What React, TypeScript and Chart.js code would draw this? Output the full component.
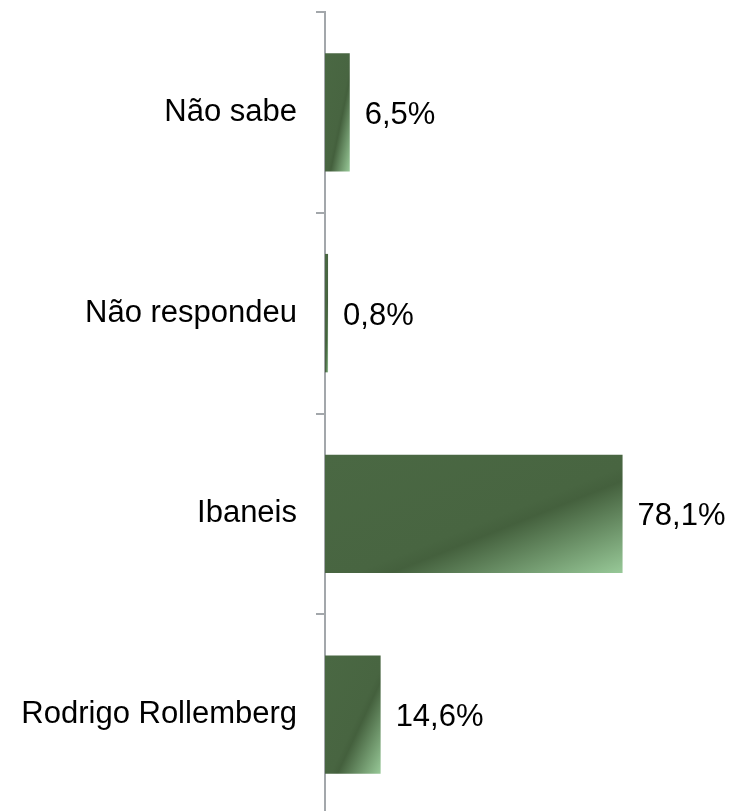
import React, { useEffect, useRef } from "react";
import { Chart, registerables } from "chart.js";

Chart.register(...registerables);

const categories = ["Não sabe", "Não respondeu", "Ibaneis", "Rodrigo Rollemberg"];
const values = [6.5, 0.8, 78.1, 14.6];
const valueLabels = ["6,5%", "0,8%", "78,1%", "14,6%"];

const FONT = "'Liberation Sans', Arial, sans-serif";
const DARK = "#4b6944";
const BAR_PCT = 0.59;
const AXIS = "#a3a7ab";

const gradientBg = (ctx: any) => {
  const chart = ctx.chart;
  const xs = chart.scales?.x;
  const ys = chart.scales?.y;
  if (!xs || !ys || !chart.chartArea || typeof ctx.raw !== "number") return DARK;
  const i = ctx.dataIndex;
  const x0 = xs.getPixelForValue(0);
  const x1 = xs.getPixelForValue(ctx.raw);
  const yc = ys.getPixelForValue(i);
  const step = Math.abs(ys.getPixelForValue(1) - ys.getPixelForValue(0));
  const h = step * BAR_PCT;
  const top = yc - h / 2;
  const w = Math.max(1, x1 - x0);
  const k = (2 * w * h) / (h * h + w * w);
  const g = chart.ctx.createLinearGradient(x0, top, x0 + k * h, top + k * w);
  g.addColorStop(0, "#4a6843");
  g.addColorStop(0.55, "#486541");
  g.addColorStop(0.61, "#44603d");
  g.addColorStop(1, "#98c998");
  return g;
};

const valueLabelPlugin = {
  id: "valueLabels",
  afterDatasetsDraw(chart: any) {
    const meta = chart.getDatasetMeta(0);
    const c = chart.ctx;
    c.save();
    c.font = `31px ${FONT}`;
    c.fillStyle = "#000";
    c.textAlign = "left";
    c.textBaseline = "middle";
    meta.data.forEach((bar: any, i: number) => {
      c.fillText(valueLabels[i], bar.x + 15, bar.y + 3);
    });
    c.restore();
  },
};

export default function App() {
  const ref = useRef<HTMLCanvasElement | null>(null);
  useEffect(() => {
    if (!ref.current) return;
    const chart = new Chart(ref.current, {
      type: "bar",
      data: {
        labels: categories,
        datasets: [
          {
            data: values,
            backgroundColor: gradientBg,
            borderWidth: 0,
            barPercentage: BAR_PCT,
            categoryPercentage: 1,
          },
        ],
      },
      options: {
        indexAxis: "y",
        animation: false,
        responsive: true,
        maintainAspectRatio: false,
        layout: { padding: { top: 12, bottom: 15, right: 27, left: 0 } },
        plugins: {
          legend: { display: false },
          tooltip: { enabled: false },
        },
        scales: {
          x: { display: false, min: 0, max: 100 },
          y: {
            afterFit: (scale: any) => {
              scale.width = 325;
              scale.paddingTop = 0;
              scale.paddingBottom = 0;
            },
            border: { display: true, color: AXIS, width: 2 },
            grid: {
              display: true,
              drawOnChartArea: false,
              drawTicks: true,
              tickLength: 9,
              color: AXIS,
              lineWidth: 2,
              offset: true,
            },
            ticks: {
              color: "#000",
              padding: 19,
              font: { family: FONT, size: 31 },
            },
          },
        },
      },
      plugins: [valueLabelPlugin],
    });
    return () => chart.destroy();
  }, []);

  return (
    <div
      style={{
        position: "fixed",
        left: 0,
        top: 0,
        width: 733,
        height: 811,
        overflow: "hidden",
        background: "#fff",
      }}
    >
      <div style={{ position: "relative", width: 733, height: 830 }}>
        <canvas ref={ref} />
      </div>
    </div>
  );
}
